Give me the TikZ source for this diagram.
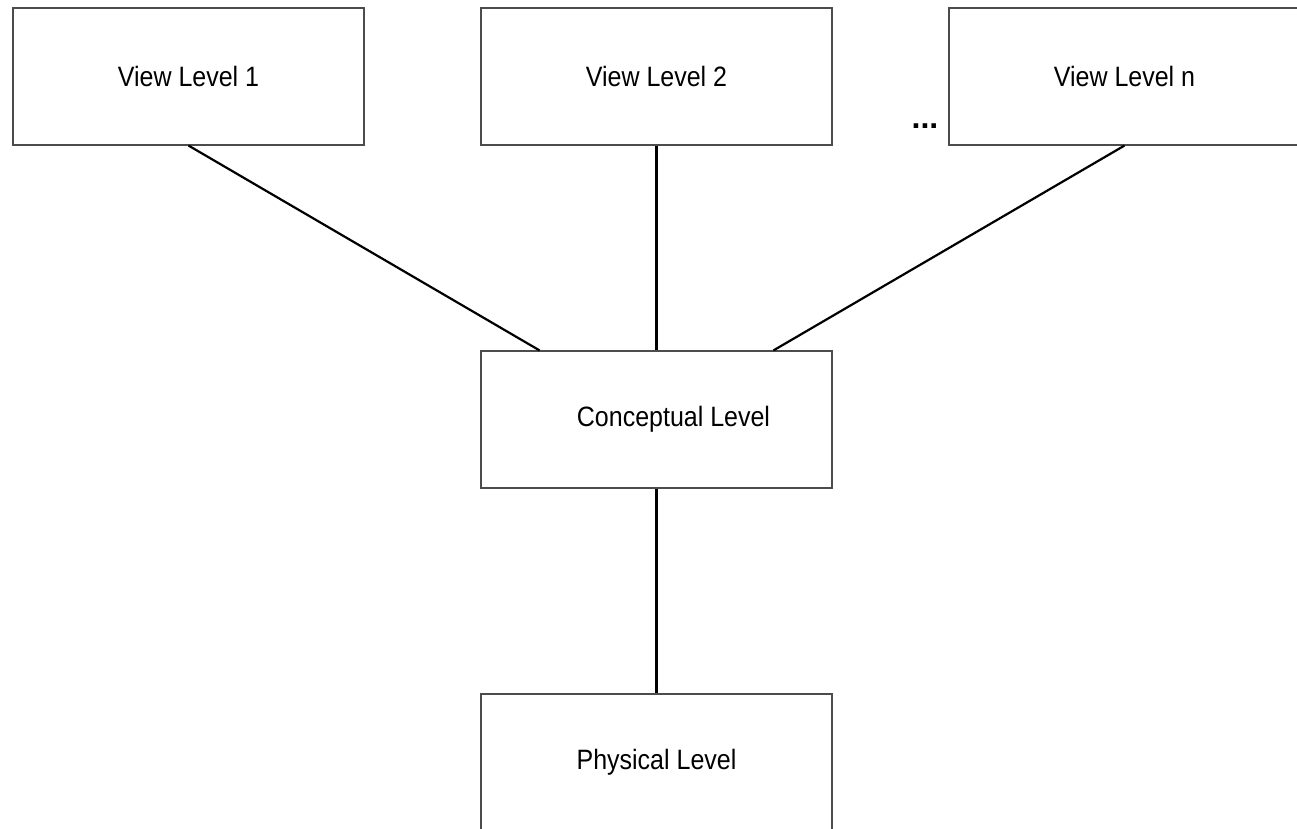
\documentclass[tikz,border=0pt]{standalone}
\usepackage{fontspec}
\setmainfont{Liberation Sans}
\usetikzlibrary{calc}
\newcommand{\talltext}[1]{\scalebox{1}[1.12]{#1}}
\begin{document}
\begin{tikzpicture}[x=1pt,y=-1pt,
  levelbox/.style={draw=black!70,line width=1.1pt,minimum width=351pt,minimum height=137pt,inner sep=0pt,font=\fontsize{25}{30}\selectfont},
  conn/.style={draw=black,line width=2.2pt}]
\useasboundingbox (0,0) rectangle (1297,829);
\clip (0,0) rectangle (1297,829);
\node[levelbox] (v1) at (188.5,76.5) {\talltext{View Level 1}};
\node[levelbox] (v2) at (656.5,76.5) {\talltext{View Level 2}};
\node[levelbox] (vn) at (1124.5,76.5) {\talltext{View Level n}};
\node[levelbox,label={[font=\fontsize{25}{30}\selectfont,xshift=17pt]center:\talltext{Conceptual Level}}] (c) at (656.5,419.5) {};
\node[levelbox] (p) at (656.5,762.5) {\talltext{Physical Level}};
\node[anchor=base,inner sep=0pt,font=\fontsize{32}{34}\selectfont\bfseries] (dots) at (925,129) {...};
\draw[conn] (v1.south) -- ($(c.north west)!0.168!(c.north east)$);
\draw[conn] (v2.south) -- (c.north);
\draw[conn] (vn.south) -- ($(c.north west)!0.832!(c.north east)$);
\draw[conn] (c.south) -- (p.north);
\end{tikzpicture}
\end{document}
